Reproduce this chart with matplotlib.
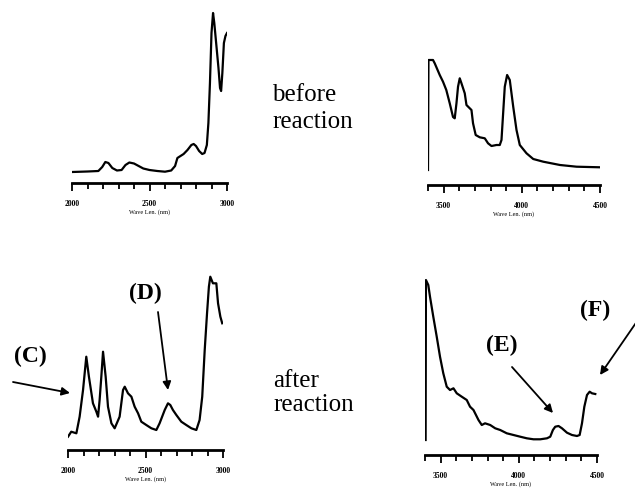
import numpy as np
import matplotlib
matplotlib.use("Agg")
import matplotlib.pyplot as plt
from matplotlib.ticker import MultipleLocator

# --- spectra (x in nm, y in arbitrary units) ---
before_left_x = [2000, 2100, 2170, 2195, 2215, 2235, 2260, 2290, 2320, 2345, 2370, 2400, 2430,
                 2460, 2500, 2550, 2600, 2640, 2665, 2680, 2700, 2720, 2745, 2770, 2785, 2800,
                 2820, 2840, 2855, 2870, 2880, 2890, 2900, 2910, 2918, 2930, 2945, 2955, 2962,
                 2970, 2980, 2990, 3000]
before_left_y = [11, 11.5, 12, 16, 21, 20, 15, 12.5, 13, 18, 20.5, 19.5, 17,
                 14.5, 13, 12, 11.3, 12.5, 17, 25, 27, 29, 33, 38, 39, 37,
                 32, 29, 30, 38, 60, 100, 150, 170, 160, 140, 115, 95, 92,
                 110, 140, 147, 150]

before_right_x = [3400, 3403, 3432, 3443, 3475, 3496, 3517, 3539, 3560, 3571, 3582, 3592, 3603,
                  3614, 3635, 3646, 3667, 3678, 3688, 3705, 3731, 3763, 3784, 3806, 3838, 3859,
                  3870, 3891, 3906, 3923, 3945, 3966, 3987, 4030, 4073, 4137, 4244, 4350, 4500]
before_right_y = [15, 125, 125, 121.7, 110, 103.3, 95, 81.7, 68, 66.7, 81.7, 98.3, 106.7,
                  101.7, 91.7, 80, 76.7, 75, 61.7, 50, 47.7, 46.7, 41.7, 39, 40, 40,
                  45, 98.3, 110, 105, 78.3, 55, 40, 31.7, 26, 23.3, 20, 18.3, 17.7]

after_left_x = [2000, 2021, 2054, 2075, 2097, 2118, 2135, 2161, 2183, 2194, 2204, 2215, 2226,
                2243, 2258, 2280, 2301, 2333, 2355, 2366, 2387, 2409, 2430, 2452, 2473, 2505,
                2538, 2570, 2591, 2624, 2645, 2660, 2677, 2699, 2731, 2763, 2796, 2828, 2849,
                2866, 2882, 2897, 2909, 2918, 2935, 2957, 2968, 2983, 2995]
after_left_y = [13.3, 18.3, 16.7, 33.3, 60, 93.3, 73.3, 46.7, 38.3, 33.3, 50, 73.3, 98.3,
                73.3, 43.3, 26.7, 21.7, 33.3, 60, 63.3, 56.7, 53.3, 43.3, 36.7, 28.3, 25,
                21.7, 20, 26.7, 40, 46.7, 45, 40, 35, 28.3, 25, 21.7, 20, 30,
                53.3, 100, 136.7, 163.3, 173.3, 166.7, 166.7, 146.7, 133.3, 126.7]

after_right_x = [3404, 3406, 3421, 3432, 3453, 3475, 3496, 3517, 3539, 3560, 3582, 3603, 3635,
                 3667, 3688, 3710, 3742, 3763, 3784, 3817, 3849, 3881, 3923, 3966, 4009, 4051,
                 4094, 4137, 4180, 4201, 4218, 4233, 4254, 4276, 4308, 4340, 4372, 4389, 4404,
                 4419, 4436, 4453, 4468, 4489]
after_right_y = [15, 175, 170, 158.3, 138.3, 118.3, 98.3, 81.7, 68.3, 65, 66.7, 61.7, 58.3,
                 55, 48.3, 45, 35, 30, 31.7, 30, 26.7, 25, 21.7, 20, 18.3, 16.7,
                 15.7, 15.7, 16.7, 18.3, 25, 28.3, 29, 26.7, 22.3, 20, 19, 20, 31.7,
                 48.3, 60, 63.3, 61.7, 61]

left_ticks = [2000, 2500, 3000]
left_labels = ["2000", "2500", "3000"]
right_ticks = [3500, 4000, 4500]
right_labels = ["3500", "4000", "4500"]
xlabel = "Wave Len. (nm)"

W, H = 635, 490
fig = plt.figure(figsize=(W / 100, H / 100), dpi=100)
plt.rcParams['font.family'] = ['Liberation Serif', 'DejaVu Serif']


def panel(x0, x1, yaxis, xs, ys, xlim, ticks, labels):
    # axes box given in pixels (left, right, y of the axis line)
    ax = fig.add_axes([x0 / W, (H - yaxis) / H, (x1 - x0) / W, 180 / H])
    ax.plot(xs, ys, color='k', lw=1.6)
    ax.set_xlim(xlim)
    ax.set_ylim(0, 180)
    for s in ['left', 'top', 'right']:
        ax.spines[s].set_visible(False)
    ax.spines['bottom'].set_linewidth(2)
    ax.set_yticks([])
    ax.set_xticks(ticks)
    ax.set_xticklabels(labels, fontsize=5.5, fontweight='bold')
    ax.xaxis.set_minor_locator(MultipleLocator(100))
    ax.tick_params(axis='x', which='major', direction='out', length=6, width=1.3, pad=6)
    ax.tick_params(axis='x', which='minor', direction='out', length=4, width=1.3)
    ax.set_xlabel(xlabel, fontsize=4.5, labelpad=1)
    ax.patch.set_alpha(0)
    return ax


panel(72, 227, 183, before_left_x, before_left_y, (2000, 3000), left_ticks, left_labels)
panel(428, 600, 185, before_right_x, before_right_y, (3400, 4500), right_ticks, right_labels)
panel(68, 223, 450, after_left_x, after_left_y, (2000, 3000), left_ticks, left_labels)
panel(425, 597, 455, after_right_x, after_right_y, (3400, 4500), right_ticks, right_labels)


def px(x, y):
    return (x, H - y)


fig.text(272 / W, 1 - 95 / H, "before", fontsize=18, va='center', ha='left')
fig.text(272 / W, 1 - 122 / H, "reaction", fontsize=18, va='center', ha='left')
fig.text(273 / W, 1 - 381 / H, "after", fontsize=18, va='center', ha='left')
fig.text(273 / W, 1 - 405 / H, "reaction", fontsize=18, va='center', ha='left')

arrow = dict(arrowstyle='-|>', lw=1.3, color='k', mutation_scale=12, shrinkA=0, shrinkB=0)
for lab, tpos, a0, a1 in [("(C)", (30, 356), (13, 382), (70, 393)),
                          ("(D)", (145, 293), (158, 312), (168, 390)),
                          ("(E)", (502, 345), (512, 367), (553, 413)),
                          ("(F)", (595, 310), (640, 317), (600, 375))]:
    fig.text(tpos[0] / W, 1 - tpos[1] / H, lab, fontsize=17, fontweight='bold',
             ha='center', va='center')
    fig.add_artist(matplotlib.patches.FancyArrowPatch(
        (a0[0] / W, 1 - a0[1] / H), (a1[0] / W, 1 - a1[1] / H),
        transform=fig.transFigure, **arrow))

fig.savefig("out.png", dpi=100)
